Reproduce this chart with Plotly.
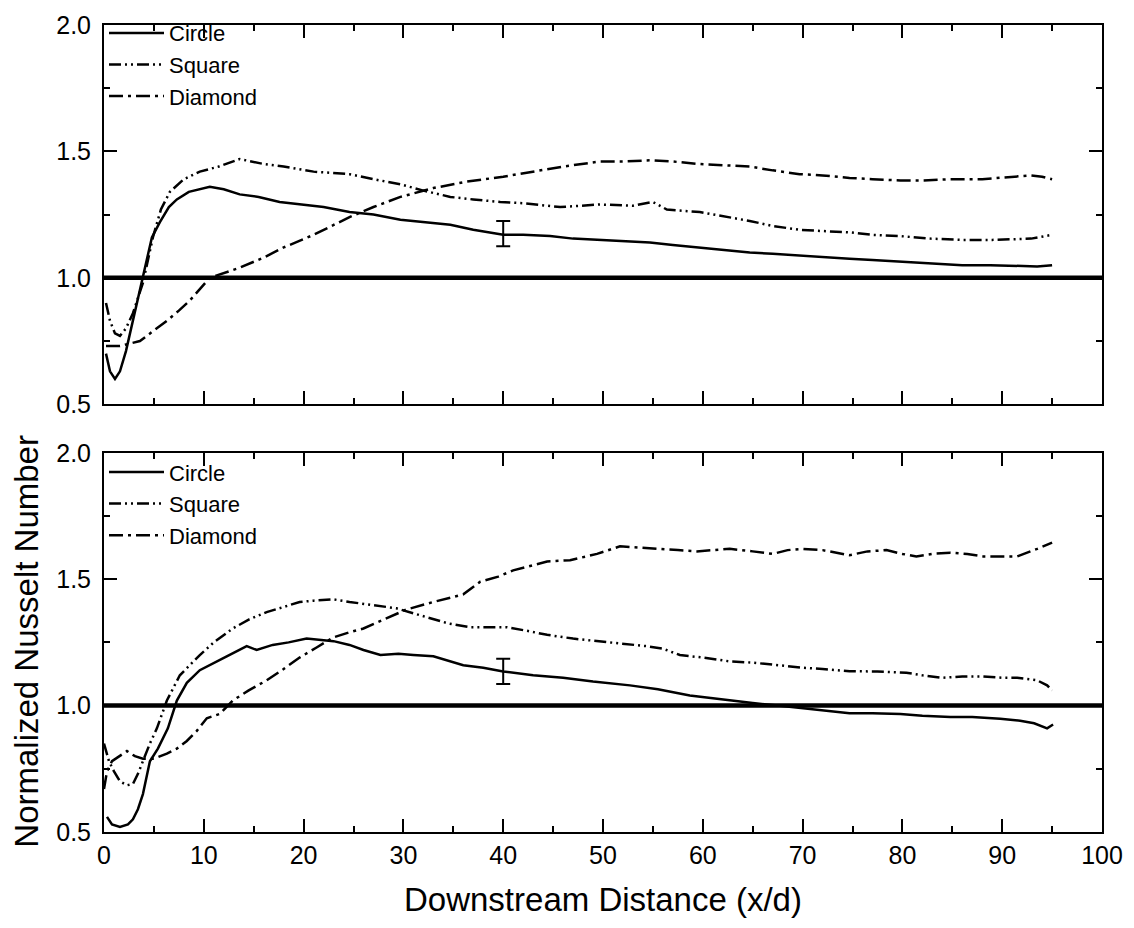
import plotly.graph_objects as go

# ---------------- data ----------------
# Top panel
top_circle_x = [0.2, 0.6, 1.1, 1.6, 2.2, 2.9, 3.9, 4.8, 5.6, 6.5, 7.3, 8.5, 10.6, 12, 13.6, 15.5, 17.6, 20, 22, 24.6,
                27, 29.7, 32, 34.7, 37, 40, 42, 44.7, 47, 49.7, 52, 54.7, 57, 59.7, 62, 64.7, 67, 69.7, 72, 74.7,
                77, 79.8, 82, 83.8, 86, 88.8, 91.8, 93.5, 95]
top_circle_y = [0.70, 0.63, 0.60, 0.63, 0.71, 0.83, 1.00, 1.16, 1.22, 1.28, 1.31, 1.34, 1.36, 1.35, 1.33, 1.32, 1.30, 1.29, 1.28, 1.26,
                1.25, 1.23, 1.22, 1.21, 1.19, 1.17, 1.17, 1.165, 1.155, 1.15, 1.145, 1.14, 1.13, 1.12, 1.11, 1.10, 1.095, 1.087, 1.08, 1.075,
                1.07, 1.063, 1.06, 1.055, 1.05, 1.05, 1.045, 1.045, 1.05]

top_square_x = [0.2, 0.6, 1.1, 1.6, 2.2, 2.9, 3.9, 4.9, 5.7, 6.6, 8, 9.6, 11.5, 13.6, 16, 18, 21, 24.6, 27, 29.7,
                32, 34.7, 37, 39.7, 42, 45.7, 49.7, 53, 55, 56.4, 59.7, 62, 64.7, 67, 69.7, 72, 74.7, 77, 79.8, 82.8,
                86, 89, 92.9, 95]
top_square_y = [0.90, 0.83, 0.78, 0.77, 0.80, 0.86, 0.98, 1.16, 1.27, 1.34, 1.39, 1.42, 1.44, 1.47, 1.45, 1.44, 1.42, 1.41, 1.39, 1.37,
                1.345, 1.32, 1.31, 1.30, 1.295, 1.28, 1.29, 1.285, 1.30, 1.27, 1.26, 1.245, 1.225, 1.205, 1.19, 1.185, 1.18, 1.17, 1.165, 1.155,
                1.15, 1.15, 1.155, 1.17]

top_diamond_x = [0.2, 1.6, 3.6, 5, 6.3, 7.5, 8.6, 10.6, 12, 13.6, 16, 18, 21, 24.6, 27, 29.7, 33, 36.3, 40, 43,
                 46, 49.7, 52, 54.7, 57, 59.7, 62, 64.7, 67, 69.7, 72, 74.7, 77, 79.8, 82, 84.8, 88, 90.8, 92.8, 94, 95]
top_diamond_y = [0.73, 0.73, 0.75, 0.79, 0.83, 0.87, 0.91, 1.00, 1.02, 1.04, 1.08, 1.12, 1.17, 1.24, 1.28, 1.32, 1.355, 1.38, 1.40, 1.42,
                 1.44, 1.46, 1.46, 1.465, 1.46, 1.45, 1.445, 1.44, 1.425, 1.41, 1.405, 1.395, 1.39, 1.385, 1.385, 1.39, 1.39, 1.40, 1.405, 1.40, 1.39]

# Bottom panel
bot_circle_x = [0.3, 0.8, 1.6, 2.4, 2.9, 3.4, 3.9, 4.6, 5.4, 6.4, 7.3, 8.3, 9.6, 11, 12.3, 14.3, 15.3, 16.9, 18.5, 20.3,
                23, 24.6, 26, 27.7, 29.5, 31, 33, 36, 38, 40, 43, 46, 49, 52.7, 55.5, 58.7, 62.7, 65, 67.5, 69.7,
                72, 74.7, 77, 79.8, 82, 84.8, 87, 89.8, 91.8, 93.2, 94.5, 95.1]
bot_circle_y = [0.56, 0.53, 0.52, 0.53, 0.55, 0.59, 0.65, 0.78, 0.83, 0.91, 1.02, 1.09, 1.14, 1.17, 1.195, 1.235, 1.22, 1.24, 1.25, 1.265,
                1.255, 1.24, 1.22, 1.20, 1.205, 1.20, 1.195, 1.16, 1.15, 1.135, 1.12, 1.11, 1.095, 1.08, 1.065, 1.04, 1.02, 1.01, 1.00, 0.99,
                0.98, 0.97, 0.97, 0.967, 0.96, 0.955, 0.955, 0.948, 0.94, 0.93, 0.91, 0.925]

bot_square_x = [0, 0.5, 1, 1.6, 2.3, 2.9, 3.4, 3.9, 4.6, 5.3, 6.3, 7.6, 9.6, 11, 12.9, 14.5, 16.3, 18, 19.6, 21,
                23, 24.6, 26.7, 29.3, 31, 32.7, 34.5, 36.7, 38.5, 40.4, 42.5, 44.4, 47, 49.4, 52, 54.4, 56, 57.7, 60, 62.7,
                65, 67.5, 70, 72, 74.7, 77.5, 80.4, 82, 84, 86, 88, 90, 91.5, 93.5, 94.5, 95]
bot_square_y = [0.85, 0.78, 0.74, 0.70, 0.685, 0.69, 0.73, 0.78, 0.85, 0.91, 1.02, 1.12, 1.20, 1.25, 1.305, 1.34, 1.37, 1.39, 1.41, 1.415,
                1.42, 1.41, 1.40, 1.385, 1.365, 1.345, 1.325, 1.31, 1.31, 1.31, 1.295, 1.28, 1.265, 1.255, 1.245, 1.235, 1.225, 1.20, 1.19, 1.175,
                1.17, 1.16, 1.15, 1.145, 1.136, 1.135, 1.13, 1.12, 1.11, 1.115, 1.115, 1.11, 1.11, 1.10, 1.08, 1.06]

bot_diamond_x = [0, 0.3, 0.8, 1.5, 2.3, 3.1, 3.9, 5, 6.3, 7.3, 8.3, 9.3, 10.3, 11.6, 12.9, 14.5, 16.3, 18, 19.6, 21.3,
                 23, 24.6, 26, 28, 30.3, 33, 36, 37.7, 39.5, 41, 42.8, 44.4, 46.7, 49.4, 51.7, 54, 56, 57.5, 59.4, 61,
                 62.7, 65, 67, 68.5, 70, 72, 74.7, 76.5, 78.4, 80, 81.4, 83, 84.8, 86.5, 88.1, 90, 91.5, 93.5, 95]
bot_diamond_y = [0.67, 0.74, 0.78, 0.80, 0.82, 0.80, 0.79, 0.79, 0.81, 0.83, 0.86, 0.90, 0.95, 0.967, 1.02, 1.06, 1.10, 1.145, 1.19, 1.23,
                 1.27, 1.29, 1.305, 1.34, 1.38, 1.41, 1.44, 1.49, 1.51, 1.535, 1.555, 1.57, 1.575, 1.60, 1.63, 1.625, 1.62, 1.615, 1.61, 1.615,
                 1.62, 1.61, 1.60, 1.615, 1.62, 1.615, 1.595, 1.61, 1.615, 1.60, 1.59, 1.60, 1.605, 1.60, 1.59, 1.59, 1.59, 1.62, 1.645]

# Error bars
err_x = [40]
err_top_y = [1.175]
err_bot_y = [1.135]
err_half = [0.05]

series_names = ["Circle", "Square", "Diamond"]
x_tick_vals = [0, 10, 20, 30, 40, 50, 60, 70, 80, 90, 100]
y_tick_vals = [0.5, 1.0, 1.5, 2.0]

# ---------------- styling ----------------
FONT = "Arial, 'Liberation Sans', sans-serif"
dashes = ["solid", "12px,4px,2px,4px,2px,4px", "14px,5px,3px,5px"]
LW = 2.5

fig = go.Figure()

top_data = [(top_circle_x, top_circle_y), (top_square_x, top_square_y), (top_diamond_x, top_diamond_y)]
bot_data = [(bot_circle_x, bot_circle_y), (bot_square_x, bot_square_y), (bot_diamond_x, bot_diamond_y)]

for name, (xs, ys), dash in zip(series_names, top_data, dashes):
    fig.add_trace(go.Scatter(x=xs, y=ys, mode="lines", name=name, xaxis="x2", yaxis="y2",
                             line=dict(color="black", width=LW, dash=dash), legend="legend"))
for name, (xs, ys), dash in zip(series_names, bot_data, dashes):
    fig.add_trace(go.Scatter(x=xs, y=ys, mode="lines", name=name, xaxis="x", yaxis="y",
                             line=dict(color="black", width=LW, dash=dash), legend="legend2"))

# error bars
fig.add_trace(go.Scatter(x=err_x, y=err_top_y, mode="markers", xaxis="x2", yaxis="y2", showlegend=False,
                         marker=dict(size=1, color="rgba(0,0,0,0)"),
                         error_y=dict(type="data", array=err_half, color="black", thickness=2, width=7)))
fig.add_trace(go.Scatter(x=err_x, y=err_bot_y, mode="markers", xaxis="x", yaxis="y", showlegend=False,
                         marker=dict(size=1, color="rgba(0,0,0,0)"),
                         error_y=dict(type="data", array=err_half, color="black", thickness=2, width=7)))

# reference lines at 1.0
for yref in ["y", "y2"]:
    fig.add_shape(type="line", xref="x domain" if yref == "y" else "x2 domain", yref=yref,
                  x0=0, x1=1, y0=1.0, y1=1.0, line=dict(color="black", width=4.5))

common_x = dict(range=[0, 100], tickvals=x_tick_vals, ticks="inside", ticklen=13, tickwidth=2, tickcolor="black",
                showline=True, linewidth=2, linecolor="black", mirror="allticks", showgrid=False, zeroline=False,
                minor=dict(ticks="inside", ticklen=6, tickwidth=2, dtick=5, tickcolor="black", showgrid=False),
                tickfont=dict(family=FONT, size=25, color="black"))
common_y = dict(range=[0.5, 2.0], tickvals=y_tick_vals, tickformat=".1f", ticks="inside", ticklen=13, tickwidth=2,
                tickcolor="black", showline=True, linewidth=2, linecolor="black", mirror="allticks", showgrid=False,
                zeroline=False,
                minor=dict(ticks="inside", ticklen=6, tickwidth=2, dtick=0.25, tickcolor="black", showgrid=False),
                tickfont=dict(family=FONT, size=25, color="black"), ticklabelstandoff=6)

bot_dom = [0, 0.4699]
top_dom = [0.5301, 1.0]

legend_common = dict(xanchor="left", yanchor="top", bgcolor="rgba(0,0,0,0)", borderwidth=0,
                     font=dict(family=FONT, size=22, color="black"), itemwidth=55, tracegroupgap=0)

fig.update_layout(
    width=1134, height=928,
    margin=dict(l=104, r=32, t=19, b=96),
    paper_bgcolor="white", plot_bgcolor="white",
    font=dict(family=FONT, color="black"),
    xaxis=dict(**common_x, anchor="y", domain=[0, 1]),
    xaxis2=dict(**common_x, anchor="y2", domain=[0, 1], matches="x", showticklabels=False),
    yaxis=dict(**common_y, anchor="x", domain=bot_dom),
    yaxis2=dict(**common_y, anchor="x2", domain=top_dom),
    legend=dict(**legend_common, x=0.0, y=1.016),
    legend2=dict(**legend_common, x=0.0, y=bot_dom[1] + 0.002),
    annotations=[
        dict(text="Downstream Distance (x/d)", xref="paper", yref="paper", x=0.5, y=-0.084,
             xanchor="center", yanchor="middle", showarrow=False,
             font=dict(family=FONT, size=33, color="black")),
        dict(text="Normalized Nusselt Number", xref="paper", yref="paper", x=-0.078, y=0.236,
             xanchor="center", yanchor="middle", showarrow=False, textangle=-90,
             font=dict(family=FONT, size=33, color="black")),
    ],
)

fig.write_html("out.html")
